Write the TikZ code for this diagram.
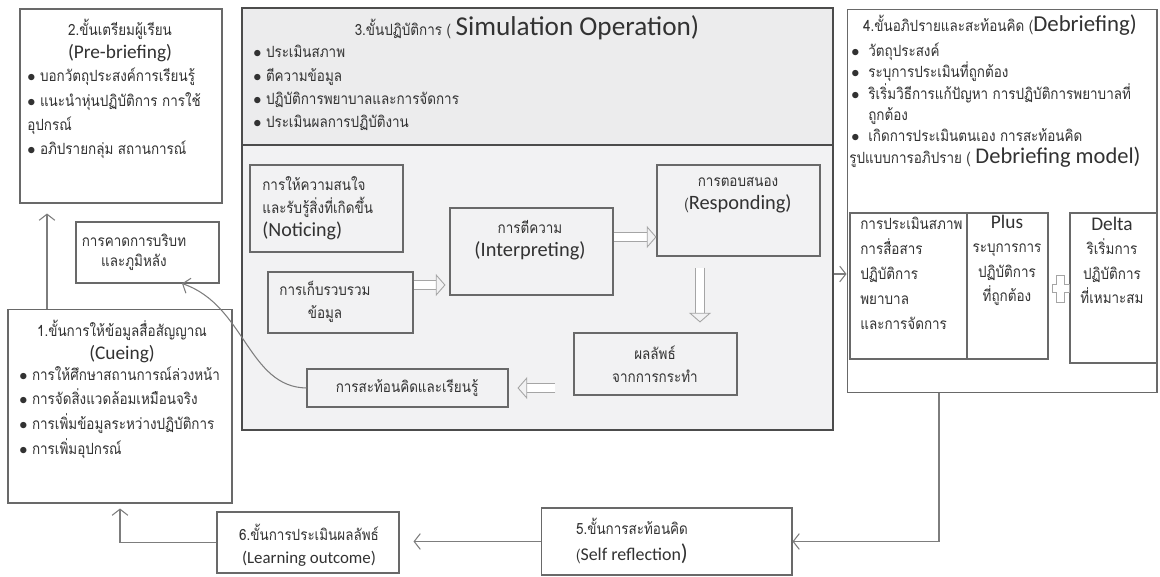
\documentclass[tikz,border=0pt]{standalone}
\usepackage{fontspec}
\setmainfont[Script=Thai, FakeStretch=0.87]{Loma}
\newfontfamily\eng{Carlito}
\usetikzlibrary{arrows.meta, positioning, calc}
\definecolor{LineGray}{RGB}{125,125,125}
\definecolor{BoxGray}{RGB}{105,105,105}
\definecolor{SimFill}{RGB}{242,242,243}
\definecolor{SimTop}{RGB}{236,236,237}
\definecolor{TextGray}{RGB}{50,50,50}
\definecolor{ArrGray}{RGB}{165,165,165}
\newcommand{\thf}{\fontsize{8.8}{13}\selectfont}
\newcommand{\enf}{\eng\fontsize{11}{13}\selectfont}

\begin{document}
\begin{tikzpicture}[x=0.02cm, y=-0.02cm,
    box/.style={rectangle, draw=BoxGray, line width=0.6pt, fill=white, inner sep=0pt},
    inbox/.style={rectangle, draw=BoxGray, line width=0.6pt, inner sep=0pt},
    simbox/.style={rectangle, draw=black!70, line width=0.9pt, inner sep=0pt},
    txt/.style={inner sep=0pt, align=left, text=TextGray, font=\thf},
    conn/.style={draw=LineGray, line width=0.6pt, -{Straight Barb[length=3.5pt, width=9pt]}},
    blk/.style={draw=ArrGray, line width=0.5pt, double=white, double distance=4.5pt,
                -{Triangle[open, length=5.5pt, width=12.5pt]}}
  ]
  \useasboundingbox (0,0) rectangle (1160,576);

  % 2. pre-briefing
  \node[box, minimum width=4.04cm, minimum height=3.88cm] (prebrief) at (121,106) {};
  \node[txt, align=center] (pbhead) at (120,40.5)
       {2.ขั้นเตรียมผู้เรียน\\{\enf(Pre-briefing)}};
  \node[txt, anchor=west, font=\fontsize{8.8}{13.8}\selectfont] (pblist) at (27,113.5)
       {$\bullet$ บอกวัตถุประสงค์การเรียนรู้\\
        $\bullet$ แนะนำหุ่นปฏิบัติการ การใช้\\
        อุปกรณ์\\
        $\bullet$ อภิปรายกลุ่ม สถานการณ์};

  % 1. cueing
  \node[box, minimum width=4.48cm, minimum height=3.88cm] (cue) at (120,406) {};
  \node[txt, align=center] (cuehead) at (122,341.5)
       {1.ขั้นการให้ข้อมูลสื่อสัญญาณ\\{\enf(Cueing)}};
  \node[txt, anchor=west, font=\fontsize{8.8}{14.2}\selectfont] (cuelist) at (19,412.5)
       {$\bullet$ การให้ศึกษาสถานการณ์ล่วงหน้า\\
        $\bullet$ การจัดสิ่งแวดล้อมเหมือนจริง\\
        $\bullet$ การเพิ่มข้อมูลระหว่างปฏิบัติการ\\
        $\bullet$ การเพิ่มอุปกรณ์};

  % context
  \node[box, minimum width=2.86cm, minimum height=1.22cm] (ctx) at (147.5,252.5) {};
  \node[txt, align=center, font=\fontsize{8.8}{11.4}\selectfont] (ctxtext) at (134,252)
       {การคาดการบริบท\\และภูมิหลัง};

  % 3. simulation operation
  \node[simbox, fill=SimFill, minimum width=11.82cm, minimum height=8.44cm] (sim) at (537.5,219) {};
  \node[simbox, fill=SimTop, minimum width=11.82cm, minimum height=2.74cm] (simtop) at (537.5,76.5) {};
  \node[txt] (simhead) at (527,28)
       {3.ขั้นปฏิบัติการ ( {\eng\fontsize{15.5}{17}\selectfont Simulation Operation)}};
  \node[txt, anchor=west, font=\fontsize{8.8}{13.2}\selectfont] (simlist) at (253,88)
       {$\bullet$ ประเมินสภาพ\\
        $\bullet$ ตีความข้อมูล\\
        $\bullet$ ปฏิบัติการพยาบาลและการจัดการ\\
        $\bullet$ ประเมินผลการปฏิบัติงาน};

  % inner cycle
  \node[inbox, minimum width=3.06cm, minimum height=1.74cm] (notice) at (326.5,208.5) {};
  \node[txt, anchor=west] (noticetext) at (262,208)
       {การให้ความสนใจ\\และรับรู้สิ่งที่เกิดขึ้น\\ {\eng\fontsize{11.4}{13}\selectfont(Noticing)}};
  \node[inbox, minimum width=3.26cm, minimum height=1.74cm] (interp) at (531.5,251.5) {};
  \node[txt, align=center] (interptext) at (530,240)
       {การตีความ\\{\eng\fontsize{11.6}{13}\selectfont(Interpreting)}};
  \node[inbox, minimum width=3.26cm, minimum height=1.82cm] (resp) at (738.5,210.5) {};
  \node[txt, align=center] (resptext) at (738,195)
       {การตอบสนอง\\({\eng\fontsize{11.6}{13}\selectfont Responding)}};
  \node[inbox, minimum width=2.9cm, minimum height=1.22cm] (collect) at (340.5,302.5) {};
  \node[txt, align=center] (collecttext) at (325,301.5)
       {การเก็บรวบรวม\\ข้อมูล};
  \node[inbox, minimum width=3.26cm, minimum height=1.24cm] (result) at (655.5,364) {};
  \node[txt, align=center] (resulttext) at (655,364.5)
       {ผลลัพธ์\\จากการกระทำ};
  \node[inbox, minimum width=4.02cm, minimum height=0.76cm] (reflect) at (407.5,388) {};
  \node[txt] (reflecttext) at (407,388) {การสะท้อนคิดและเรียนรู้};

  % 4. debriefing
  \node[box, minimum width=6.2cm, minimum height=7.68cm] (debrief) at (1002,201) {};
  \node[txt] (dbhead) at (1000,25)
       {4.ขั้นอภิปรายและสะท้อนคิด ({\eng\fontsize{13}{15}\selectfont Debriefing)}};
  \node[txt, anchor=west, font=\fontsize{8.8}{12.1}\selectfont] (dblist) at (851,92.5)
       {\makebox[0.34cm][l]{$\bullet$}วัตถุประสงค์\\
        \makebox[0.34cm][l]{$\bullet$}ระบุการประเมินที่ถูกต้อง\\
        \makebox[0.34cm][l]{$\bullet$}ริเริ่มวิธีการแก้ปัญหา การปฏิบัติการพยาบาลที่\\
        \hspace*{0.34cm}ถูกต้อง\\
        \makebox[0.34cm][l]{$\bullet$}เกิดการประเมินตนเอง การสะท้อนคิด};
  \node[txt, anchor=west] (dbmodel) at (849,157)
       {รูปแบบการอภิปราย ( {\eng\fontsize{12.8}{15}\selectfont Debriefing model)}};
  \node[box, minimum width=2.34cm, minimum height=2.92cm] (assess) at (908.5,286) {};
  \node[txt, anchor=west, font=\fontsize{8.8}{14.2}\selectfont] (assesstext) at (860,273)
       {การประเมินสภาพ\\การสื่อสาร\\ปฏิบัติการ\\พยาบาล\\ และการจัดการ};
  \node[box, minimum width=1.62cm, minimum height=2.92cm] (plus) at (1007.5,286) {};
  \node[txt, align=center, font=\fontsize{8.8}{13.9}\selectfont] (plustext) at (1007,260.5)
       {{\enf Plus}\\ระบุการการ\\ปฏิบัติการ\\ที่ถูกต้อง};
  \node[box, minimum width=1.74cm, minimum height=3.0cm] (delta) at (1113.5,288) {};
  \node[txt, align=center, font=\fontsize{8.8}{13.9}\selectfont] (deltatext) at (1112,260.5)
       {{\enf Delta}\\ริเริ่มการ\\ปฏิบัติการ\\ที่เหมาะสม};
  \draw[draw=ArrGray, fill=white, line width=0.5pt]
       (1056.5,275) -- (1064.5,275) -- (1064.5,284) -- (1069,284) -- (1069,292)
       -- (1064.5,292) -- (1064.5,302) -- (1056.5,302) -- (1056.5,292) -- (1052,292)
       -- (1052,284) -- (1056.5,284) -- cycle;

  % 5. and 6.
  \node[box, minimum width=5.02cm, minimum height=1.34cm] (self) at (666.5,541.5) {};
  \node[txt, align=center] (selftext) at (632,541)
       {5.ขั้นการสะท้อนคิด\\[2pt]({\eng\fontsize{10.2}{12}\selectfont Self reflection\fontsize{13}{12}\selectfont)}};
  \node[box, minimum width=3.64cm, minimum height=1.22cm] (outcome) at (308,542.5) {};
  \node[txt, align=center] (outcometext) at (309,545.5)
       {6.ขั้นการประเมินผลลัพธ์\\{\eng\fontsize{9.6}{12}\selectfont(Learning outcome)}};

  % block arrows inside the cycle
  \draw[blk, shorten >=0.08cm] (collect.east |- 0,285) -- (interp.west |- 0,285);
  \draw[blk] (interp.east |- 0,237) -- (resp.west |- 0,237);
  \draw[blk, shorten <=0.22cm, shorten >=0.2cm] (resp.south -| 700,0) -- (result.north -| 700,0);
  \draw[blk, shorten <=0.36cm, shorten >=0.18cm] (result.west |- reflect.east) -- (reflect.east);

  % connectors
  \draw[conn, shorten >=0.2cm] (cue.north -| 47,0) -- (prebrief.south -| 47,0);
  \draw[conn] (sim.east |- 0,274) -- (debrief.west |- 0,274);
  \draw[conn] (debrief.south -| 939,0) |- (self.east);
  \draw[conn, shorten >=0.28cm] (self.west) -- (self.west -| outcome.east);
  \draw[conn, shorten >=0.1cm] (outcome.west) -| (cue.south);
  \draw[conn] (reflect.west) .. controls (248,387) and (245,305) .. (ctx.south -| 182,0);
\end{tikzpicture}
\end{document}
